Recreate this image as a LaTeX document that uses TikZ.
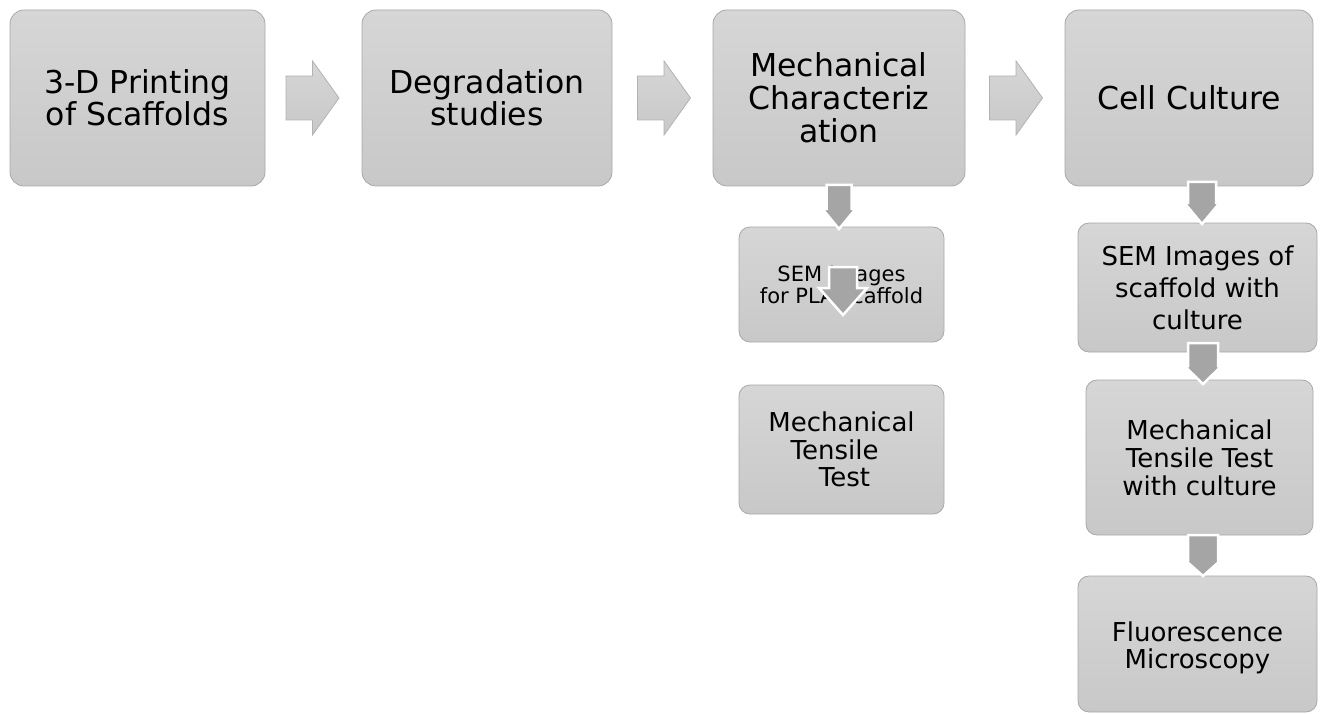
\documentclass[tikz,border=0pt]{standalone}
\usepackage{fontspec}
\setmainfont{DejaVu Sans}
\usetikzlibrary{calc}

\definecolor{boxtop}{RGB}{214,214,214}
\definecolor{boxbot}{RGB}{200,200,200}
\definecolor{boxline}{RGB}{168,168,168}
\definecolor{arrowline}{RGB}{178,178,178}
\definecolor{dropfill}{RGB}{165,165,165}

\tikzset{
  stage/.style={draw=boxline, line width=0.8pt, rounded corners=14pt,
    top color=boxtop, bottom color=boxbot, inner sep=0pt,
    align=center, text=black},
  substage/.style={stage, rounded corners=11pt},
  bigtext/.style={font=\fontsize{31.5}{32.5}\selectfont},
  midtext/.style={font=\fontsize{26}{28}\selectfont},
  smalltext/.style={font=\fontsize{21}{22}\selectfont},
  flowarrow/.style={draw=arrowline, line width=0.8pt, top color=boxtop, bottom color=boxbot},
  dropline/.style={draw=white, line width=2.5pt, fill=dropfill, line join=miter},
  % horizontal block arrow, centred on its position
  pics/rightblock/.style={code={
    \path[flowarrow] (-26.5,-22) -- (0,-22) -- (0,-37) -- (26.5,0)
      -- (0,37) -- (0,22) -- (-26.5,22) -- cycle;}},
  % vertical block arrow: shaft half width, head half width, shaft length, head length
  pics/downblock/.style n args={4}{code={
    \path[dropline] (-#1,0) -- (#1,0) -- (#1,#3) -- (#2,#3) -- (0,#3+#4)
      -- (-#2,#3) -- (-#1,#3) -- cycle;}},
}

\begin{document}
\begin{tikzpicture}[x=1pt,y=-1pt]
\useasboundingbox (0,0) rectangle (1322,714);

% main stages
\node[stage, bigtext, minimum width=255pt, minimum height=176pt] (print) at (137.5,98) {3-D Printing\\of Scaffolds};
\node[stage, bigtext, minimum width=250pt, minimum height=176pt] (deg) at (487,98) {Degradation\\studies};
\node[stage, bigtext, font=\fontsize{31.5}{33}\selectfont, minimum width=252pt, minimum height=176pt] (mech) at (839,98) {Mechanical\\Characteriz\\ation};
\node[stage, bigtext, minimum width=248pt, minimum height=176pt] (cell) at (1189,98) {Cell Culture};

% mechanical characterization steps
\node[substage, smalltext, minimum width=205pt, minimum height=115pt] (sem) at (841.5,284.5) {SEM Images\\for PLA scaffold};
\node[substage, midtext, font=\fontsize{26}{27.5}\selectfont, minimum width=205pt, minimum height=129pt] (tens) at (841.5,449.5) {Mechanical\\Tensile\rule{14pt}{0pt}\\\rule{6pt}{0pt}Test};

% cell culture steps
\node[substage, midtext, font=\fontsize{26}{32}\selectfont, minimum width=239pt, minimum height=129pt] (semc) at (1197.5,287.5) {SEM Images of\\scaffold with\\culture};
\node[substage, midtext, minimum width=227pt, minimum height=155pt] (tensc) at (1199.5,457.5) {Mechanical\\Tensile Test\\with culture};
\node[substage, minimum width=239pt, minimum height=136pt,
      label={[midtext, font=\fontsize{26}{27}\selectfont, align=center, yshift=-4pt]center:{Fluorescence\\Microscopy}}] (fluo) at (1197.5,644) {};

% arrows between the main stages
\pic at ($(print.east)!0.5!(deg.west)+(-1,0)$) {rightblock};
\pic at ($(deg.east)!0.5!(mech.west)+(1.5,0)$) {rightblock};
\pic at ($(mech.east)!0.5!(cell.west)+(1,0)$) {rightblock};

% arrows down the columns
\pic at (839,185) {downblock={12.5}{16.5}{24}{20}};
\pic at (843,267) {downblock={14}{24}{21}{27}};
\pic at (1202,182) {downblock={14}{17.5}{21}{21}};
\pic at (1203,343) {downblock={15}{18.5}{23}{18}};
\pic at (1203,535) {downblock={15}{18}{25}{16}};
\end{tikzpicture}
\end{document}
